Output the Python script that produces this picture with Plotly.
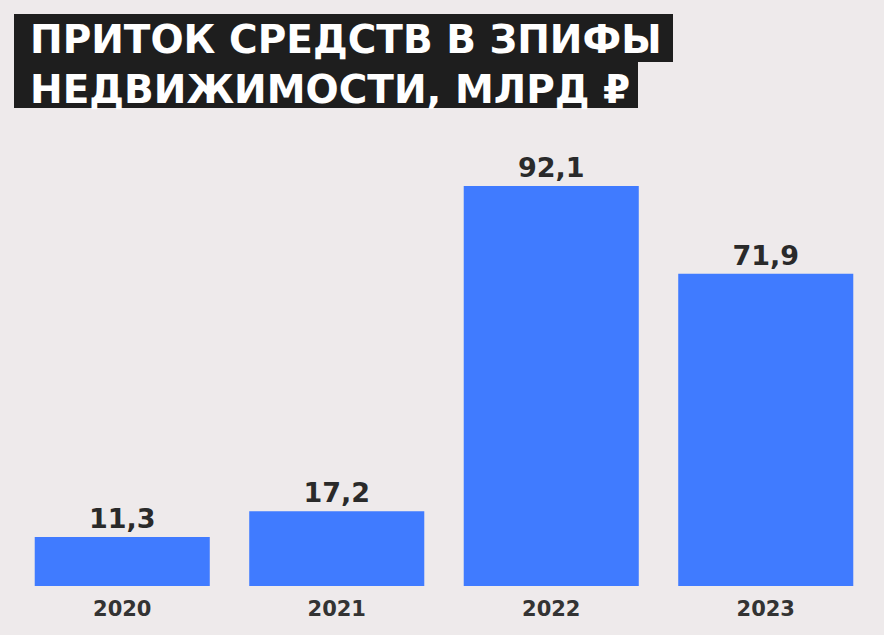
import plotly.graph_objects as go

years = ['2020', '2021', '2022', '2023']
inflow = [11.3, 17.2, 92.1, 71.9]
title_lines = ['ПРИТОК СРЕДСТВ В ЗПИФЫ', 'НЕДВИЖИМОСТИ, МЛРД ₽']

bg = '#EEEAEB'
W, H = 884, 635
ml, mr, mt, mb = 15, 11, 130, 49


def px(x):
    return (x - ml) / (W - ml - mr)


def py(y):
    return (H - mb - y) / (H - mt - mb)


fig = go.Figure(go.Bar(
    x=years,
    y=inflow,
    marker=dict(color='#407BFF', line=dict(width=0)),
    texttemplate='%{y:.1f}',
    textposition='outside',
    textfont=dict(family='DejaVu Sans', size=27, color='#2A2A2A', weight='bold'),
    cliponaxis=False,
))

# black boxes behind the title lines
fig.add_shape(type='rect', xref='paper', yref='paper',
              x0=px(14), x1=px(673), y0=py(62), y1=py(14),
              fillcolor='#1E1E1E', line_width=0, layer='below')
fig.add_shape(type='rect', xref='paper', yref='paper',
              x0=px(14), x1=px(638), y0=py(108), y1=py(61),
              fillcolor='#1E1E1E', line_width=0, layer='below')

title_sizes = [39, 39]
for i, line in enumerate(title_lines):
    fig.add_annotation(
        text=line, xref='paper', yref='paper',
        x=px(28), y=py(40 + i * 50),
        xanchor='left', yanchor='middle', showarrow=False,
        font=dict(family='DejaVu Sans', size=title_sizes[i], color='#FFFFFF', weight='bold'),
    )

fig.update_layout(
    width=W, height=H,
    margin=dict(l=ml, r=mr, t=mt, b=mb),
    paper_bgcolor=bg, plot_bgcolor=bg,
    separators=', ',
    bargap=0.184,
    showlegend=False,
)
fig.update_xaxes(type='category', showgrid=False, zeroline=False, showline=False,
                 ticks='outside', ticklen=4, tickcolor=bg,
                 tickfont=dict(family='DejaVu Sans', size=21, color='#333333', weight='bold'))
fig.update_yaxes(range=[0, 105], visible=False)

fig.write_html('out.html',
               config={'displayModeBar': False},
               post_script="document.body.style.margin='0';"
                           "document.body.style.background='#EEEAEB';")
